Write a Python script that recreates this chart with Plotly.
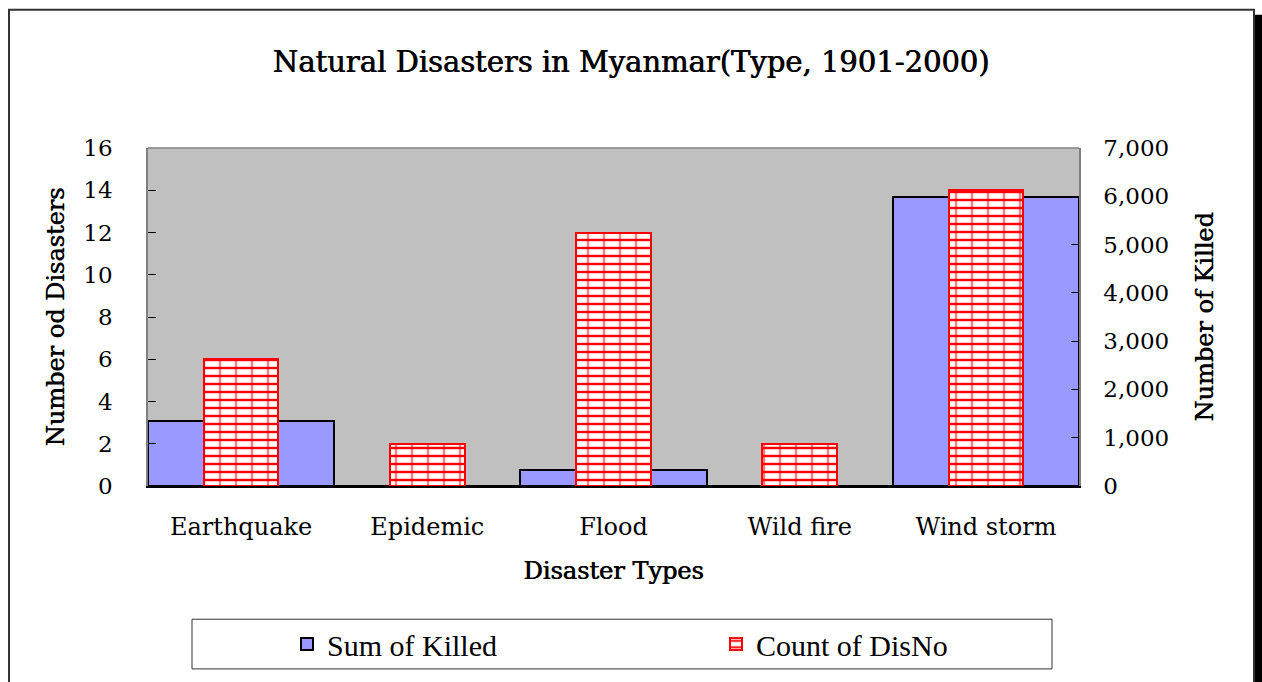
import plotly.graph_objects as go

categories = ["Earthquake", "Epidemic", "Flood", "Wild fire", "Wind storm"]
sum_killed = [1340, 0, 330, 0, 5990]
count_disno = [6, 2, 12, 2, 14]

OFF = 0  # body margin removed via post_script
W, H = 1262, 682
L, R, T, B = 148, 1079, 148, 488

def px(x):  # page px -> paper
    return (x - OFF - L) / (R - L)

def py(y):
    return (B - (y - OFF)) / (B - T)

SERIF = "DejaVu Serif"
SEMI = "0.7px 0px 0px black"

fig = go.Figure()
fig.add_trace(go.Bar(
    x=categories, y=sum_killed, name="Sum of Killed", yaxis="y", width=1.0,
    marker=dict(color="#9999FF", line=dict(color="black", width=2)),
))
fig.add_trace(go.Bar(
    x=categories, y=count_disno, name="Count of DisNo", yaxis="y2", width=0.4,
    marker=dict(color="white", line=dict(color="#FF0000", width=2),
                pattern=dict(shape="-", fgcolor="#FF0000", bgcolor="white",
                             size=8, solidity=0.3, fillmode="replace")),
))
fig.add_trace(go.Bar(
    x=categories, y=count_disno, name="Count of DisNo", yaxis="y2", width=0.4,
    showlegend=False, hoverinfo="skip",
    marker=dict(color="rgba(0,0,0,0)", line=dict(color="#FF0000", width=2),
                pattern=dict(shape="|", fgcolor="#FF0000", size=16,
                             solidity=0.15, fillmode="overlay")),
))

shapes = [
    dict(type="rect", xref="paper", yref="paper",
         x0=px(9), x1=px(1254), y0=py(720), y1=py(9),
         line=dict(color="#333333", width=2), fillcolor="rgba(0,0,0,0)", layer="below"),
    dict(type="rect", xref="paper", yref="paper",
         x0=px(1255), x1=px(1275), y0=py(720), y1=py(14),
         line=dict(width=0), fillcolor="black"),
    dict(type="rect", xref="paper", yref="paper",
         x0=px(192), x1=px(1052), y0=py(672), y1=py(622),
         line=dict(color="#333333", width=1), fillcolor="white"),
    dict(type="line", xref="paper", yref="paper", x0=0, x1=1, y0=1, y1=1,
         line=dict(color="#808080", width=1.5)),
]

TITLE_FONT = dict(family=SERIF, size=24, color="black", shadow=SEMI)

fig.update_layout(
    width=W, height=H,
    margin=dict(l=L, r=W - R, t=T, b=H - B),
    paper_bgcolor="white", plot_bgcolor="#C0C0C0",
    barmode="overlay", bargap=0,
    font=dict(family=SERIF, size=23, color="black"),
    title=dict(text="Natural Disasters in Myanmar(Type, 1901-2000)",
               x=0.5, xanchor="center", y=1 - (62 - OFF) / H, yanchor="middle",
               font=dict(family=SERIF, size=29, color="black", shadow=SEMI)),
    xaxis=dict(showline=True, linecolor="black", linewidth=2, mirror=False,
               ticks="", tickfont=dict(size=24), ticklabelstandoff=18,
               title=dict(text="Disaster Types", font=TITLE_FONT, standoff=22),
               showgrid=False),
    yaxis=dict(side="right", range=[0, 7000], dtick=1000, tickformat=",d",
               showline=True, linecolor="#808080", linewidth=1.5,
               ticks="inside", ticklen=8, tickcolor="black",
               showgrid=False, zeroline=False, tickfont=dict(size=23),
               ticklabelstandoff=18,
               title=dict(text="Number of Killed", font=TITLE_FONT, standoff=28)),
    yaxis2=dict(overlaying="y", side="left", range=[0, 16], dtick=2,
                showline=True, linecolor="#808080", linewidth=1.5,
                ticks="inside", ticklen=8, tickcolor="black",
                showgrid=False, zeroline=False, tickfont=dict(size=23),
                ticklabelstandoff=29,
                title=dict(text="Number od Disasters", font=TITLE_FONT, standoff=12)),
    legend=dict(orientation="h", x=px(287), xanchor="left", y=py(647), yanchor="middle",
                bgcolor="rgba(0,0,0,0)", borderwidth=0,
                font=dict(family="Liberation Serif", size=30),
                entrywidth=384, entrywidthmode="pixels", itemwidth=30),
    shapes=shapes,
)

fig.write_html(
    "out.html",
    config={"displayModeBar": False},
    post_script="document.body.style.margin='0';document.body.style.overflow='hidden';",
)
